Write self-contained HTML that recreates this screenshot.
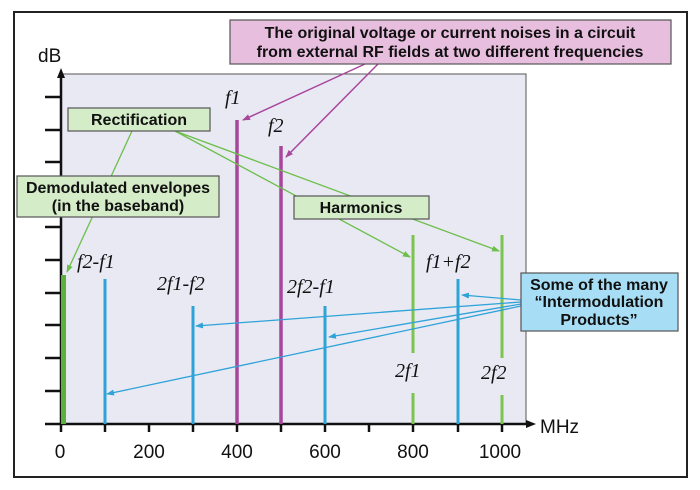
<!DOCTYPE html>
<html><head><meta charset="utf-8"><style>
body{margin:0;background:#fff}
svg{display:block}
.b{font-family:"Liberation Sans",sans-serif;font-weight:bold;font-size:16px;fill:#111}
.i{font-family:"Liberation Serif",serif;font-style:italic;font-size:20px;fill:#111}
.n{font-family:"Liberation Sans",sans-serif;font-size:19px;fill:#111}
</style></head><body>
<svg width="700" height="490" viewBox="0 0 700 490" xmlns="http://www.w3.org/2000/svg">
<defs>
<marker id="ag" markerWidth="8" markerHeight="8" refX="7" refY="3" orient="auto" markerUnits="userSpaceOnUse"><path d="M0,0 L8,3 L0,6z" fill="#6cbf4a"/></marker>
<marker id="ap" markerWidth="8" markerHeight="8" refX="7" refY="3" orient="auto" markerUnits="userSpaceOnUse"><path d="M0,0 L8,3 L0,6z" fill="#a8469c"/></marker>
<marker id="ab" markerWidth="8" markerHeight="8" refX="7" refY="3" orient="auto" markerUnits="userSpaceOnUse"><path d="M0,0 L8,3 L0,6z" fill="#2ea3d8"/></marker>
</defs>
<rect x="14" y="12" width="673" height="465" fill="#fff" stroke="#222" stroke-width="2"/>
<rect x="61" y="74" width="465" height="350" fill="#e9e9f4" stroke="#555" stroke-width="1"/>
<line x1="61" y1="424" x2="61" y2="74" stroke="#111" stroke-width="2.5"/>
<path d="M57,78 L61,68 L65,78z" fill="#111"/>
<line x1="45" y1="424" x2="528" y2="424" stroke="#111" stroke-width="2.5"/>
<path d="M526,420 L536,424 L526,428z" fill="#111"/>
<g stroke="#111" stroke-width="2.5">
<line x1="45" y1="97" x2="61" y2="97"/><line x1="45" y1="130" x2="61" y2="130"/><line x1="45" y1="162" x2="61" y2="162"/><line x1="45" y1="195" x2="61" y2="195"/><line x1="45" y1="227" x2="61" y2="227"/><line x1="45" y1="260" x2="61" y2="260"/><line x1="45" y1="293" x2="61" y2="293"/><line x1="45" y1="325" x2="61" y2="325"/><line x1="45" y1="358" x2="61" y2="358"/><line x1="45" y1="391" x2="61" y2="391"/>
<line x1="61" y1="424" x2="61" y2="432"/><line x1="105" y1="424" x2="105" y2="432"/><line x1="149" y1="424" x2="149" y2="432"/><line x1="193" y1="424" x2="193" y2="432"/><line x1="237" y1="424" x2="237" y2="432"/><line x1="281" y1="424" x2="281" y2="432"/><line x1="325" y1="424" x2="325" y2="432"/><line x1="369" y1="424" x2="369" y2="432"/><line x1="413" y1="424" x2="413" y2="432"/><line x1="458" y1="424" x2="458" y2="432"/><line x1="502" y1="424" x2="502" y2="432"/>
</g>
<text class="n" x="38" y="62">dB</text>
<text class="n" x="540" y="433">MHz</text>
<g class="n" text-anchor="middle">
<text x="60" y="458">0</text><text x="149" y="458">200</text><text x="237" y="458">400</text><text x="325" y="458">600</text><text x="413" y="458">800</text><text x="500" y="458">1000</text>
</g>
<line x1="63.5" y1="275" x2="63.5" y2="424" stroke="#5cb03c" stroke-width="5"/>
<g stroke="#2ea3d8" stroke-width="3">
<line x1="105" y1="279" x2="105" y2="424"/><line x1="193" y1="306" x2="193" y2="424"/><line x1="325" y1="306" x2="325" y2="424"/><line x1="458" y1="279" x2="458" y2="424"/>
</g>
<g stroke="#a8469c" stroke-width="3.5">
<line x1="237" y1="120" x2="237" y2="424"/><line x1="281" y1="146" x2="281" y2="424"/>
</g>
<g stroke="#7bc44f" stroke-width="3">
<line x1="413" y1="235" x2="413" y2="353"/><line x1="413" y1="393" x2="413" y2="424"/>
<line x1="502" y1="235" x2="502" y2="358"/><line x1="502" y1="395" x2="502" y2="424"/>
</g>
<text class="i" x="225" y="104">f1</text>
<text class="i" x="268" y="132">f2</text>
<text class="i" x="77" y="268">f2-f1</text>
<text class="i" x="157" y="290">2f1-f2</text>
<text class="i" x="287" y="293">2f2-f1</text>
<text class="i" x="426" y="268">f1+f2</text>
<text class="i" x="395" y="377">2f1</text>
<text class="i" x="481" y="379">2f2</text>
<g stroke="#6cbf4a" stroke-width="1.3" fill="none">
<line x1="132" y1="131" x2="67" y2="272" marker-end="url(#ag)"/>
<line x1="175" y1="131" x2="410" y2="257" marker-end="url(#ag)"/>
<line x1="175" y1="131" x2="499" y2="251" marker-end="url(#ag)"/>
</g>
<g stroke="#a8469c" stroke-width="1.5" fill="none">
<line x1="365" y1="64" x2="243" y2="120" marker-end="url(#ap)"/>
<line x1="378" y1="64" x2="286" y2="157" marker-end="url(#ap)"/>
</g>
<g stroke="#2ea3d8" stroke-width="1.3" fill="none">
<line x1="521" y1="300" x2="462" y2="295" marker-end="url(#ab)"/>
<line x1="521" y1="302" x2="196" y2="326" marker-end="url(#ab)"/>
<line x1="521" y1="304" x2="329" y2="337" marker-end="url(#ab)"/>
<line x1="521" y1="306" x2="107" y2="394" marker-end="url(#ab)"/>
</g>
<rect x="230" y="20" width="441" height="44" fill="#e8bedf" stroke="#555" stroke-width="1.2"/>
<text class="b" x="450" y="38" text-anchor="middle">The original voltage or current noises in a circuit</text>
<text class="b" x="450" y="57" text-anchor="middle">from external RF fields at two different frequencies</text>
<rect x="68" y="108" width="142" height="23" fill="#d4ecc8" stroke="#555" stroke-width="1.2"/>
<text class="b" x="139" y="125" text-anchor="middle">Rectification</text>
<rect x="17" y="176" width="202" height="41" fill="#d4ecc8" stroke="#555" stroke-width="1.2"/>
<text class="b" x="118" y="193" text-anchor="middle">Demodulated envelopes</text>
<text class="b" x="118" y="211" text-anchor="middle">(in the baseband)</text>
<rect x="294" y="196" width="135" height="23" fill="#d4ecc8" stroke="#555" stroke-width="1.2"/>
<text class="b" x="361" y="213" text-anchor="middle">Harmonics</text>
<rect x="521" y="273" width="157" height="58" fill="#a8def5" stroke="#555" stroke-width="1.2"/>
<text class="b" x="599" y="290" text-anchor="middle">Some of the many</text>
<text class="b" x="599" y="307" text-anchor="middle">“Intermodulation</text>
<text class="b" x="599" y="325" text-anchor="middle">Products”</text>
</svg>
</body></html>
